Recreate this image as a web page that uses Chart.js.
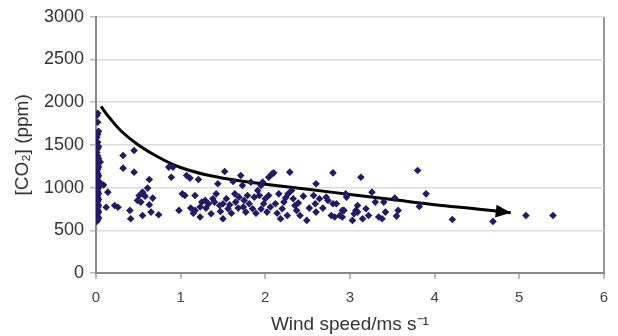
<!DOCTYPE html>
<html>
<head>
<meta charset="utf-8">
<script src="https://cdn.jsdelivr.net/npm/chart.js@4.4.0/dist/chart.umd.min.js"></script>
<style>
    html, body { margin: 0; padding: 0; background: #fff; }
    #wrap { width: 618px; height: 336px; }
</style>
</head>
<body>
<div id="wrap"><canvas id="co2Chart" width="618" height="336"></canvas></div>
<script>
// Data
const windSpeed = [
    0.02, 0.01, 0.02, 0.03, 0.02, 0.01, 0.02, 0.03, 0.02, 0.01,
    0.02, 0.03, 0.02, 0.01, 0.02, 0.03, 0.02, 0.01, 0.02, 0.03,
    0.02, 0.01, 0.02, 0.03, 0.02, 0.01, 0.02, 0.03, 0.02, 0.01,
    0.02, 0.03, 0.02, 0.01, 0.02, 0.03, 0.02, 0.01, 0.02, 0.03,
    0.02, 0.01, 0.02, 0.03, 0.02, 0.01, 0.02, 0.03, 0.02, 0.01,
    0.06, 0.09, 0.05, 0.14, 0.12, 0.22, 0.26, 0.32, 0.32, 0.45,
    0.45, 0.40, 0.41, 0.63, 0.61, 0.55, 0.51, 0.49, 0.53, 0.58,
    0.67, 0.63, 0.65, 0.55, 0.74, 0.86, 0.91, 0.89, 0.98, 1.02,
    1.05, 1.07, 1.11, 1.17, 1.21, 1.17, 1.23, 1.25, 1.29, 1.23,
    1.33, 1.36, 1.42, 1.44, 1.40, 1.46, 1.50, 1.50, 1.52, 1.54,
    1.56, 1.62, 1.64, 1.65, 1.69, 1.71, 1.73, 1.74, 1.77, 1.79,
    1.81, 1.83, 1.85, 1.87, 1.91, 1.93, 1.95, 1.97, 1.98, 2.02,
    2.04, 2.08, 2.10, 2.04, 2.06, 2.12, 2.16, 2.18, 2.20, 2.22,
    2.26, 2.27, 2.29, 2.31, 2.33, 2.35, 2.37, 2.41, 2.49, 2.57,
    2.60, 2.59, 2.60, 2.64, 2.72, 2.74, 2.78, 2.80, 2.80, 2.84,
    2.82, 2.88, 2.91, 2.95, 2.96, 2.93, 2.91, 3.13, 3.09, 3.07,
    3.05, 3.09, 3.03, 3.15, 3.19, 3.22, 3.26, 3.30, 3.34, 3.40,
    3.42, 3.38, 3.53, 3.57, 3.55, 3.80, 3.90, 3.82, 4.21, 4.69,
    5.08, 5.40, 1.30, 1.38, 1.47, 1.58, 1.60, 1.68, 1.75, 1.89,
    2.00, 2.14, 2.24, 2.39, 2.45, 1.12, 1.15, 2.52, 2.68, 1.95
];
const co2 = [
    1870, 1845, 1765, 1660, 1625, 1590, 1530, 1480, 1455, 1410,
    1370, 1340, 1310, 1290, 1265, 1240, 1215, 1190, 1165, 1140,
    1120, 1100, 1085, 1065, 1050, 1035, 1015, 1000, 985, 965,
    950, 930, 915, 895, 880, 860, 840, 825, 805, 790,
    770, 750, 735, 715, 700, 680, 660, 645, 625, 605,
    1045, 1030, 1300, 947, 770, 790, 770, 1376, 1228, 1434,
    1181, 733, 635, 1095, 994, 947, 908, 850, 830, 900,
    877, 799, 713, 674, 682, 1240, 1240, 1122, 733, 927,
    908, 1142, 1111, 908, 1095, 733, 772, 830, 850, 655,
    811, 694, 927, 1045, 830, 791, 811, 635, 1189, 869,
    752, 1072, 927, 830, 888, 1142, 1025, 772, 713, 908,
    811, 1064, 752, 888, 966, 908, 1025, 1064, 811, 713,
    1122, 1161, 1173, 908, 772, 811, 927, 635, 752, 830,
    674, 927, 1181, 966, 869, 791, 733, 674, 616, 908,
    1045, 811, 713, 869, 888, 850, 674, 811, 1173, 811,
    655, 674, 733, 927, 889, 733, 655, 1122, 791, 733,
    694, 713, 616, 635, 752, 674, 947, 830, 655, 830,
    713, 635, 877, 733, 666, 1200, 927, 779, 627, 604,
    674, 674, 760, 870, 720, 800, 700, 760, 850, 700,
    870, 700, 880, 820, 900, 760, 700, 760, 760, 750
];

// Trend arrow (hand drawn in the original)
const curveX = [0.06, 0.15, 0.30, 0.50, 0.75, 1.00, 1.30, 1.60, 2.00, 2.50, 3.00, 3.50, 4.00, 4.50, 4.90];
const curveY = [1950, 1830, 1660, 1500, 1350, 1235, 1150, 1095, 1040, 980, 920, 860, 800, 750, 705];

const yTicks = [0, 500, 1000, 1500, 2000, 2500, 3000];
const xTicks = [0, 1, 2, 3, 4, 5, 6];

const points = windSpeed.map((x, i) => ({ x: x, y: co2[i] }));
const curve = curveX.map((x, i) => ({ x: x, y: curveY[i] }));

// Arrowhead at the end of the trend line
const arrowHead = {
    id: 'arrowHead',
    afterDatasetsDraw(chart) {
        const meta = chart.getDatasetMeta(1);
        const n = meta.data.length;
        const tip = meta.data[n - 1];
        const prev = meta.data[n - 2];
        const ang = Math.atan2(tip.y - prev.y, tip.x - prev.x);
        const len = 15, half = 6.5;
        const ctx = chart.ctx;
        ctx.save();
        ctx.translate(tip.x, tip.y);
        ctx.rotate(ang);
        ctx.beginPath();
        ctx.moveTo(0, 0);
        ctx.lineTo(-len, -half);
        ctx.lineTo(-len, half);
        ctx.closePath();
        ctx.fillStyle = '#000';
        ctx.fill();
        ctx.restore();
    }
};

new Chart(document.getElementById('co2Chart'), {
    type: 'scatter',
    data: {
        datasets: [{
            data: points,
            pointStyle: 'rectRot',
            pointRadius: 3.8,
            backgroundColor: '#221a68',
            borderColor: '#221a68',
            borderWidth: 0
        }, {
            data: curve,
            showLine: true,
            borderColor: '#000',
            borderWidth: 3,
            pointRadius: 0,
            tension: 0.4
        }]
    },
    options: {
        responsive: false,
        animation: false,
        layout: { padding: { left: 0, top: 16, right: 6, bottom: 0 } },
        plugins: {
            legend: { display: false },
            tooltip: { enabled: false }
        },
        scales: {
            x: {
                type: 'linear',
                min: 0,
                max: 6,
                afterBuildTicks: (axis) => { axis.ticks = xTicks.map(v => ({ value: v })); },
                afterFit: (axis) => { axis.height = 63; },
                grid: {
                    color: (c) => c.tick && c.tick.value === 6 ? '#999' : 'rgba(0,0,0,0)',
                    lineWidth: 2,
                    tickColor: '#bbb',
                    tickLength: 6,
                    drawTicks: true
                },
                border: { color: '#888', width: 2 },
                ticks: {
                    color: '#444',
                    font: { family: 'Liberation Sans, Arial', size: 15 },
                    padding: 10,
                    callback: (v) => String(v)
                },
                title: {
                    display: true,
                    text: 'Wind speed/ms s\u207B\u00B9',
                    color: '#333',
                    font: { family: 'Liberation Sans, Arial', size: 19 },
                    padding: { top: 0, bottom: 0 }
                }
            },
            y: {
                type: 'linear',
                min: 0,
                max: 3000,
                afterBuildTicks: (axis) => { axis.ticks = yTicks.map(v => ({ value: v })); },
                afterFit: (axis) => { axis.width = 96; },
                grid: {
                    color: '#dcdcdc',
                    lineWidth: 1.5,
                    tickColor: '#bbb',
                    tickLength: 6
                },
                border: { color: '#888', width: 2 },
                ticks: {
                    color: '#333',
                    font: { family: 'Liberation Sans, Arial', size: 18 },
                    padding: 6,
                    callback: (v) => String(v)
                },
                title: {
                    display: true,
                    text: '[CO\u2082] (ppm)',
                    color: '#333',
                    font: { family: 'Liberation Sans, Arial', size: 19 },
                    padding: { top: 11, bottom: 0 }
                }
            }
        }
    },
    plugins: [arrowHead]
});
</script>
</body>
</html>
